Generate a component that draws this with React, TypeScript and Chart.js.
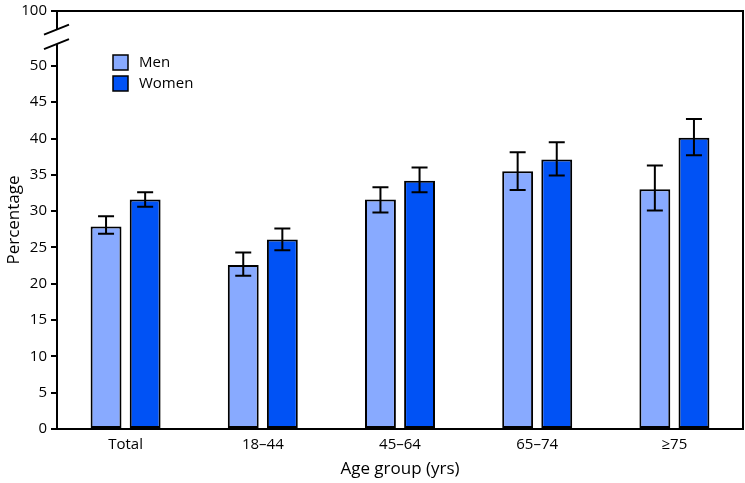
import { useEffect, useRef } from "react";
import { Chart, registerables } from "chart.js";

Chart.register(...registerables);

const categories = ["Total", "18–44", "45–64", "65–74", "≥75"];
const men = [27.9, 22.6, 31.6, 35.5, 33.0];
const menLow = [26.9, 21.1, 29.8, 32.9, 30.1];
const menHigh = [29.3, 24.3, 33.3, 38.1, 36.3];
const women = [31.6, 26.1, 34.2, 37.1, 40.1];
const womenLow = [30.6, 24.6, 32.6, 34.9, 37.7];
const womenHigh = [32.6, 27.6, 36.0, 39.5, 42.7];
const yTicks = [0, 5, 10, 15, 20, 25, 30, 35, 40, 45, 50];

// axis is broken above 50; the top of the scale stands for 100
const BREAK_TOP = 57.56;
const TOP_LABEL = "100";

const MEN_COLOR = "#88AAFF";
const WOMEN_COLOR = "#0052F5";
const FONT = "'Open Sans', 'Liberation Sans', sans-serif";

const errorBars = {
  id: "errorBars",
  afterDatasetsDraw(chart: any) {
    const { ctx } = chart;
    const y = chart.scales.y;
    const ranges = [
      [menLow, menHigh],
      [womenLow, womenHigh],
    ];
    ctx.save();
    ctx.strokeStyle = "#000";
    ctx.lineWidth = 2;
    ranges.forEach(([lo, hi], di) => {
      const meta = chart.getDatasetMeta(di);
      meta.data.forEach((el: any, i: number) => {
        const y1 = y.getPixelForValue(lo[i]);
        const y2 = y.getPixelForValue(hi[i]);
        ctx.beginPath();
        ctx.moveTo(el.x, y1);
        ctx.lineTo(el.x, y2);
        ctx.moveTo(el.x - 8, y1);
        ctx.lineTo(el.x + 8, y1);
        ctx.moveTo(el.x - 8, y2);
        ctx.lineTo(el.x + 8, y2);
        ctx.stroke();
      });
    });
    ctx.restore();
  },
};

const frameAndBreak = {
  id: "frameAndBreak",
  afterDraw(chart: any) {
    const { ctx, chartArea } = chart;
    const { left, right, top, bottom } = chartArea;
    const y = chart.scales.y;
    ctx.save();
    ctx.strokeStyle = "#000";
    ctx.lineWidth = 2;
    ctx.beginPath();
    ctx.moveTo(left - 1, top);
    ctx.lineTo(right, top);
    ctx.lineTo(right, bottom);
    ctx.stroke();

    // axis break
    const b1 = y.getPixelForValue(55);
    const b2 = y.getPixelForValue(53);
    ctx.fillStyle = "#fff";
    ctx.fillRect(left - 3, b1, 6, b2 - b1);
    ctx.beginPath();
    ctx.moveTo(left - 13, b1 + 5);
    ctx.lineTo(left + 12, b1 - 5);
    ctx.moveTo(left - 13, b2 + 5);
    ctx.lineTo(left + 12, b2 - 5);
    ctx.stroke();

    // legend
    const items = [
      ["Men", MEN_COLOR],
      ["Women", WOMEN_COLOR],
    ];
    ctx.font = `15px ${FONT}`;
    ctx.textBaseline = "middle";
    items.forEach(([label, color], i) => {
      const x0 = left + 56;
      const y0 = top + 44 + i * 21;
      ctx.fillStyle = color;
      ctx.fillRect(x0, y0, 15, 15);
      ctx.lineWidth = 1.5;
      ctx.strokeRect(x0, y0, 15, 15);
      ctx.fillStyle = "#000";
      ctx.fillText(label, x0 + 26, y0 + 7.5);
    });
    ctx.restore();
  },
};

export default function App() {
  const canvasRef = useRef<HTMLCanvasElement>(null);

  useEffect(() => {
    const canvas = canvasRef.current;
    if (!canvas) return;
    const chart = new Chart(canvas, {
      type: "bar",
      data: {
        labels: categories,
        datasets: [
          {
            label: "Men",
            data: men,
            backgroundColor: MEN_COLOR,
            borderColor: "#000",
            borderWidth: 2,
            borderSkipped: false,
          },
          {
            label: "Women",
            data: women,
            backgroundColor: WOMEN_COLOR,
            borderColor: "#000",
            borderWidth: 2,
            borderSkipped: false,
          },
        ],
      },
      options: {
        animation: false,
        responsive: false,
        devicePixelRatio: 1,
        layout: { padding: { top: 9, right: 2, left: 0, bottom: 0 } },
        datasets: {
          bar: { categoryPercentage: 0.57, barPercentage: 0.79 },
        },
        plugins: {
          legend: { display: false },
          tooltip: { enabled: false },
        },
        scales: {
          x: {
            grid: { display: false, drawTicks: false },
            border: { display: true, color: "#000", width: 2 },
            ticks: { color: "#000", font: { family: FONT, size: 15 }, padding: 7 },
            title: {
              display: true,
              text: "Age group (yrs)",
              color: "#000",
              font: { family: FONT, size: 17 },
              padding: { top: 4 },
            },
            afterFit: (s: any) => {
              s.height = 54;
            },
          },
          y: {
            min: 0,
            max: BREAK_TOP,
            afterBuildTicks: (s: any) => {
              s.ticks = [...yTicks.map((v) => ({ value: v })), { value: BREAK_TOP }];
            },
            grid: {
              drawOnChartArea: false,
              drawTicks: true,
              tickLength: 6,
              color: "#000",
              lineWidth: 2,
            },
            border: { display: true, color: "#000", width: 2 },
            ticks: {
              color: "#000",
              font: { family: FONT, size: 15 },
              padding: 4,
              callback: (v: any) => (v === BREAK_TOP ? TOP_LABEL : String(v)),
            },
            title: {
              display: true,
              text: "Percentage",
              color: "#000",
              font: { family: FONT, size: 17 },
              padding: { bottom: 2 },
            },
            afterFit: (s: any) => {
              s.width = 57;
            },
          },
        },
      },
      plugins: [errorBars, frameAndBreak],
    });
    return () => chart.destroy();
  }, []);

  return (
    <div style={{ position: "fixed", left: 0, top: -2, width: 745, height: 485, background: "#fff" }}>
      <canvas ref={canvasRef} width={745} height={485} />
    </div>
  );
}
